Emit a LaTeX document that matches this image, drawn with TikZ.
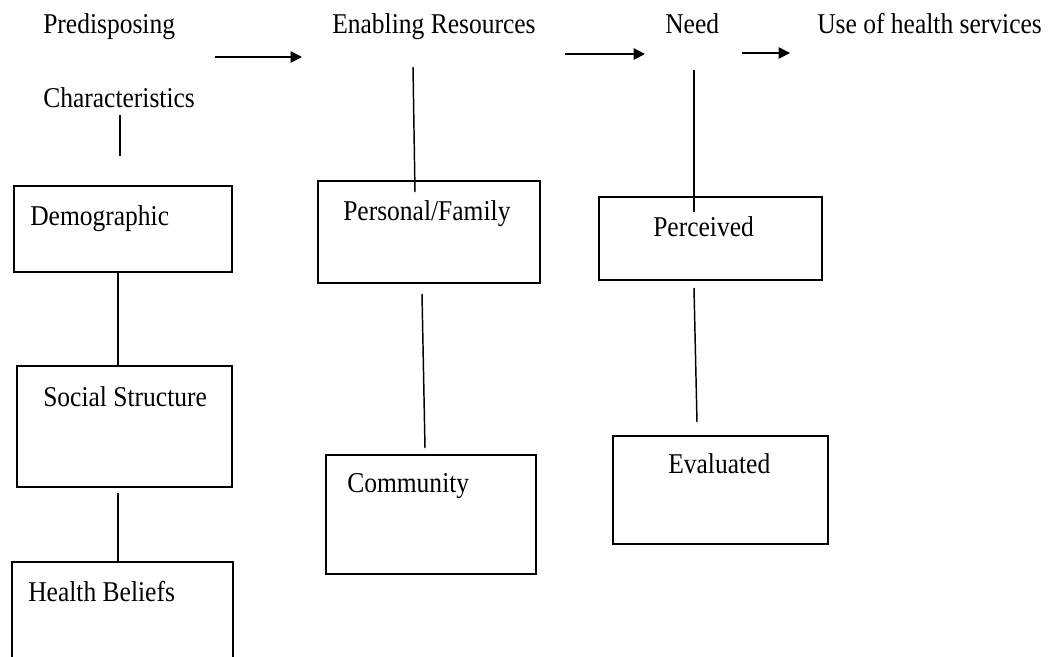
\documentclass[tikz,border=0pt]{standalone}
\usepackage{fontspec}
\setmainfont{Liberation Serif}[FakeStretch=0.89]
\usetikzlibrary{arrows.meta,calc}

\tikzset{
  box/.style 2 args={draw, line width=1.4pt, inner sep=0pt,
    minimum width=#1*0.75pt, minimum height=#2*0.75pt},
  lbl/.style={anchor=base west, inner sep=0pt,
    font=\fontsize{21.5}{26}\selectfont},
  link/.style={line width=1.1pt},
  flow/.style={line width=1.3pt, -{Triangle[length=8.5pt,width=8.5pt]}}
}

\begin{document}
\begin{tikzpicture}[x=0.75pt, y=-0.75pt]
  \clip (0,0) rectangle (1050,657);
  \fill[white] (0,0) rectangle (1050,657);

  % column headings
  \node[lbl] (tPred) at (43,33)  {Predisposing};
  \node[lbl] (tChar) at (43,107) {Characteristics};
  \node[lbl] (tEnab) at (332,33) {Enabling Resources};
  \node[lbl] (tNeed) at (665,33) {Need};
  \node[lbl] (tUse)  at (817,33) {Use of health services};

  % boxes
  \node[box={218}{86}]  (demo)      at (123,229)   {};
  \node[box={215}{121}] (social)    at (124.5,426.5) {};
  \node[box={221}{138}] (health)    at (122.5,631) {};
  \node[box={222}{102}] (personal)  at (429,232)   {};
  \node[box={210}{119}] (community) at (431,514.5) {};
  \node[box={223}{83}]  (perceived) at (710.5,238.5) {};
  \node[box={215}{108}] (evaluated) at (720.5,490) {};

  % box captions
  \node[lbl] (tDemo)   at (30,225)  {Demographic};
  \node[lbl] (tSocial) at (43,406)  {Social Structure};
  \node[lbl] (tHealth) at (28,601)  {Health Beliefs};
  \node[lbl] (tPers)   at (343,220) {Personal/Family};
  \node[lbl] (tComm)   at (347,492) {Community};
  \node[lbl] (tPerc)   at (653,236) {Perceived};
  \node[lbl] (tEval)   at (668,473) {Evaluated};

  % flow arrows between the headings
  \coordinate (a1s) at (215,57);  \coordinate (a1e) at (302,57);
  \coordinate (a2s) at (565,54);  \coordinate (a2e) at (645,54);
  \coordinate (a3s) at (742,53);  \coordinate (a3e) at (790,53);
  \draw[flow] (a1s) -- (a1e);
  \draw[flow] (a2s) -- (a2e);
  \draw[flow] (a3s) -- (a3e);

  % predisposing column
  \coordinate (pTop) at (120,115);
  \draw[link] (pTop) -- ($(demo.north)+(-3,-29)$);
  \draw[link] ($(demo.south)+(-5,0)$) -- ($(social.north)+(-6.5,0)$);
  \draw[link] ($(social.south)+(-6.5,5)$) -- ($(health.north)+(-4.5,0)$);

  % enabling column
  \coordinate (eTop) at (413,67);
  \draw[link] (eTop) -- ($(personal.north)+(-14,12)$);
  \draw[link] ($(personal.south)+(-7,10)$) -- ($(community.north)+(-6,-6)$);

  % need column
  \coordinate (nTop) at (694,70);
  \draw[link] (nTop) -- ($(perceived.north)+(-16.5,16)$);
  \draw[link] ($(perceived.south)+(-16.5,7)$) -- ($(evaluated.north)+(-23.5,-13)$);
\end{tikzpicture}
\end{document}
